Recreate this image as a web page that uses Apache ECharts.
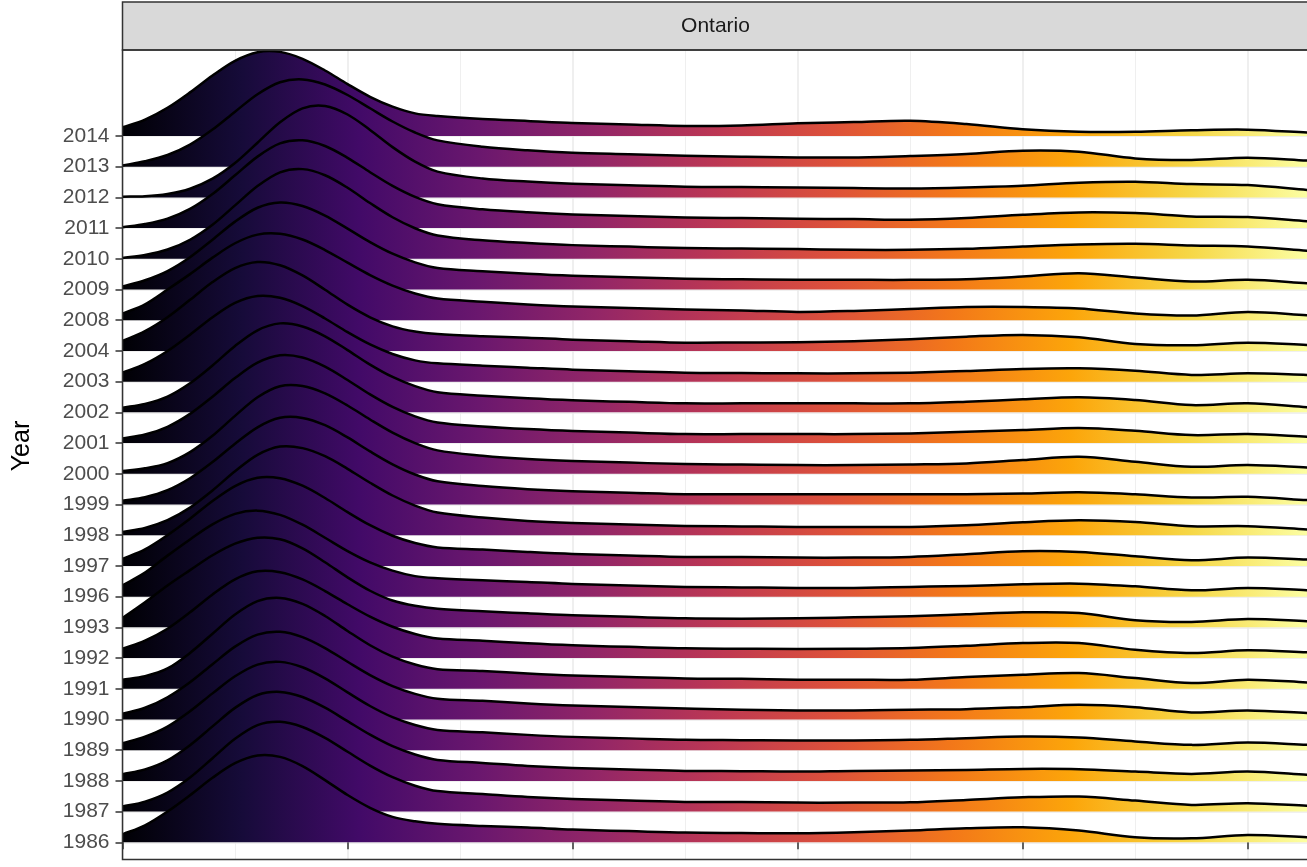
<!DOCTYPE html>
<html><head><meta charset="utf-8">
<script src="https://cdn.jsdelivr.net/npm/echarts@6/dist/echarts.min.js"></script>
<style>html,body{margin:0;padding:0;background:#fff}#chart{width:1307px;height:867px}</style>
</head><body><div id="chart"></div>
<script>
// ---- data ----
const stripLabel = 'Ontario';
const yTitle = 'Year';
const years = [1986,1987,1988,1989,1990,1991,1992,1993,1996,1997,1998,1999,2000,2001,2002,2003,2004,2008,2009,2010,2011,2012,2013,2014];
const xGrid = [0,0.1,0.2,0.3,0.4,0.5,0.6,0.7,0.8,0.9,1.0,1.1,1.2,1.3,1.4,1.6,1.8,2.0,2.25,2.5,2.75,3.0,3.25,3.5,3.75,4.0,4.25,4.5,4.75,5.0,5.27];
const d1986 = [8,17,30.8,47.1,64.5,79.1,86.8,85.4,76.2,62.2,47.3,34.5,25.4,21,18.5,16.3,14.7,12.7,11.2,9.7,9.3,9,10,11.7,14,15,11.7,5,4,7.3,5];
const d1987 = [5,10,19.1,34.1,53.4,72.8,86.5,89.8,84.6,73.7,59.8,46,34.4,25.9,20.5,17.6,14.7,12.7,11.2,9.7,9.5,9,9,9.3,11.7,14.3,15,11,6.7,8.3,5.7];
const d1988 = [6.7,11.5,20.6,35.7,54.5,73,85.9,89,83.9,73.2,59.7,46.2,34.7,26.4,20.9,18,15,13,11.5,10,9.7,9.3,10,10.3,11,12,11.7,9.3,7,9.3,6];
const d1989 = [7,13.5,23.6,38.9,56.8,73.9,85.6,88.3,82.9,71.8,57.8,44.2,33,25.1,20.2,17.9,15.3,13.3,11.8,10.3,10,9.7,9.7,10.3,12,13.7,12.7,8.7,5.3,7.7,5.3];
const d1990 = [5.7,11.7,22.2,37.2,55.2,72.8,84.8,87.6,82.3,71.4,57.7,44.4,33.4,25.6,20.8,18.6,16,14,12.5,11,9.7,9,9,9.7,10.3,12.3,14.7,12.3,7,9,6.3];
const d1991 = [9,12.5,20.3,35.8,55,74.2,87.6,90.8,84.9,72.8,57.8,43.5,32.1,24.2,19.6,17.8,15.3,13.3,11.8,10.3,10,9,9,9,11.7,14,15.7,10.7,5.7,9,6.3];
const d1992 = [9.3,17.5,29.3,45.7,63.6,78.7,86.7,85.8,78.6,67,53.8,41.4,31.3,24.1,19.6,17.4,14.7,12.7,11.2,9.7,9.3,9,9.3,10,12.3,15,15,8.3,5,7.7,5.7];
const d1993 = [9.3,25,41.9,57.2,72.1,83.7,89.6,88.1,79,65.1,50,36.6,26.8,21.5,18.5,16,14,12,10.5,9,8.7,9,10,11,13,15,14.3,7,5.3,8.3,6];
const d1996 = [11.3,24,41,57.2,72.2,82.7,86,81.8,71.9,58.9,45.6,34.3,26,20.5,18.5,16.3,14.7,12.7,11.2,9.7,9.2,8.7,8.7,9.7,10.7,12.3,13,10.3,6.3,8.7,6.3];
const d1997 = [7,16.5,30.8,47.2,64.9,79.9,88.2,87.7,80.2,67.9,53.8,40.7,30.2,22.9,18.5,16.4,14,12,10.5,9,9,8.3,8.3,9,11.7,14.7,14,9.7,5.7,8.3,6.3];
const d1998 = [3.3,7.3,15,27.6,44.8,63.9,80.3,88.6,87.1,79,66.4,52.5,39.7,29.6,22.7,17.7,14.3,12.3,10.8,9.3,8.8,8.3,8.3,8.3,10,13,15,13.3,9,9,5.7];
const d1999 = [3.7,7.3,14.3,26.2,42.4,60.8,77.2,86.7,86.6,79.3,67.1,53.1,40.2,30,23.2,18.4,15.3,13.3,11.8,10.3,10.3,10.3,10.3,10.3,10.3,11,12.3,10.3,7,7.7,4.3];
const d2000 = [2.7,5.5,10.7,21.7,38,57.9,76.5,87.5,87.7,80.4,68.3,54.3,41.2,30.7,23.4,18.1,14.7,12.7,11.2,9.7,9.2,8.7,8.7,9.3,10.3,13.7,17,12,7,8.7,6.3];
const d2001 = [4.7,8.5,16.3,29.2,46.4,65,80.4,87.8,85.6,76.5,63.1,48.7,36.2,26.7,20.6,16.7,14,12,10.5,9,9,9,9,9.7,11.3,13,15,12.3,8,9,6.3];
const d2002 = [4.7,8.5,15.8,29.1,46.9,66.4,82.1,89,85.9,76.1,62.3,47.8,35.4,26.2,20.2,16.7,14,12,10.5,9,9,9,9,9,10.7,13,15,12.3,7.3,9,5];
const d2003 = [9,17.7,30.6,47,64.5,78.8,85.7,83.9,75.6,63.2,49.5,37.2,27.7,21.3,18.3,16,14,12,10.5,9,8.7,8.3,8.3,9,10.7,12.7,13.3,11,6.7,8.3,6.7];
const d2004 = [10,19.8,33.7,51.1,68.9,82.9,89,85.7,75.5,61.2,46.3,33.7,24.6,19.5,17,14.8,13.3,11.3,9.8,8.3,8.5,8.7,9.7,11.7,14.3,16,13.7,7,5.7,8.3,6];
const d2008 = [6.7,16,30.7,46.1,62.6,77,85.6,86.4,80.7,70.2,57.6,45.2,34.7,26.8,21.7,18.5,15.8,13.7,12.2,10.7,9.8,8.3,9.3,11.3,13.3,13.3,11.7,6.7,4.7,8.3,5];
const d2009 = [3,9.3,18.5,32.3,49.8,67.9,81.8,87,83.5,73.9,60.9,47.4,35.8,27.2,21.6,18.4,15.7,13.7,12.2,10.7,10.2,9.7,9.7,9.7,10.3,13,16.3,12,8,9.7,6.3];
const d2010 = [0.8,3.9,9.3,19.1,34.1,53.4,72.8,86.5,89.7,83.6,71.1,55.8,41.6,30.6,23.3,18.5,15.8,13.7,12.2,10.7,10.2,9.7,9,9,10,12.3,14.3,15,13.3,12.3,8];
const d2011 = [0.8,4.1,9.5,19.2,34.1,52.8,71.5,84.7,87.8,82.1,70.3,55.9,42.2,31.2,23.9,18.8,15.8,13.7,12.2,10.7,10,9.3,9,8.3,10,13.3,15.7,15,11.7,11,6.7];
const d2012 = [0.7,1.2,3.5,8.7,18.7,34.4,54.7,75.2,89.1,91.4,82.9,67.5,50.3,35.8,25.8,18.9,15.8,13.7,12.2,10.7,10.3,10,9.3,9,10,11.7,14.7,15.7,13.3,12.3,7.3];
const d2013 = [1.2,5.5,11.7,22.1,37.1,55,72.5,84.5,87.3,82.2,71.7,58.4,45.2,34.2,26.3,19.9,16.4,14,12.5,11,10,9.3,9.3,10.7,12.7,16,15,8.3,6.7,9,6];
const d2014 = [8.7,16.4,28.2,43.6,60.5,75.2,83.8,84.1,77.2,65.5,51.9,39.2,29.3,22.6,20,17,15,13,11.5,10,10.5,12.7,14,15.3,12,6.7,4.3,4.3,5.7,6.3,3.3];
const ridgeValues = [d1986,d1987,d1988,d1989,d1990,d1991,d1992,d1993,d1996,d1997,d1998,d1999,d2000,d2001,d2002,d2003,d2004,d2008,d2009,d2010,d2011,d2012,d2013,d2014];

// ---- layout / style ----
const PL = 122.5, PT = 50, PH = 809.5, PW = 1186;   // panel
const XMAX_VIS = 5.27, XMAX_AXIS = 5.5;
const UNIT_PX = PW / XMAX_VIS;
const yMin = -0.56, yMax = 25.8;
const ridgeScale = 30.71;   // density units per category row
const rowPx = PH / (yMax - yMin);
const inferno = ['#000004','#160B39','#420A68','#6A176E','#932667','#BC3754','#DD513A','#F37819','#FCA50A','#F6D746','#FCFFA4'];
const FONT = "'Liberation Sans', Arial, Helvetica, sans-serif";
function makeGrad() {
  return new echarts.graphic.LinearGradient(PL, 0, PL + PW, 0,
    inferno.map((c,i)=>({offset:i/(inferno.length-1), color:c})), true);
}

// smooth cubic Hermite path through pixel points (x strictly increasing)
function smoothPath(p) {
  const n = p.length, m = [];
  for (let i = 0; i < n; i++) {
    const a = p[Math.max(0, i-1)], b = p[Math.min(n-1, i+1)];
    m.push((b[1]-a[1]) / (b[0]-a[0]));
  }
  let d = 'M' + p[0][0] + ',' + p[0][1];
  for (let i = 0; i < n-1; i++) {
    const h = (p[i+1][0] - p[i][0]) / 3;
    d += ' C' + (p[i][0]+h) + ',' + (p[i][1]+m[i]*h) + ' ' +
         (p[i+1][0]-h) + ',' + (p[i+1][1]-m[i+1]*h) + ' ' + p[i+1][0] + ',' + p[i+1][1];
  }
  return d;
}

function renderRidge(params, api) {
  const k = api.value(0);
  const vals = ridgeValues[k];
  const pts = xGrid.map((x,j)=>api.coord([x, k + vals[j]/ridgeScale]));
  const baseY = api.coord([0, k])[1];
  const line = smoothPath(pts);
  const area = line + ' L' + pts[pts.length-1][0] + ',' + baseY + ' L' + pts[0][0] + ',' + baseY + ' Z';
  return {type:'group', children:[
    {type:'path', shape:{pathData:area}, style:{fill:makeGrad(), stroke:null}, silent:true},
    {type:'path', shape:{pathData:line}, style:{fill:null, stroke:'#000000', lineWidth:2.5, lineJoin:'round'}, silent:true}
  ]};
}

const series = [];
for (let k = years.length - 1; k >= 0; k--) {
  series.push({
    type:'custom', name:String(years[k]), xAxisIndex:0, yAxisIndex:0,
    data:[[k]], dimensions:['ridge'], encode:{},
    renderItem:renderRidge, silent:true,
    z: 2 + (years.length - 1 - k),
    animation:false
  });
}

const chart = echarts.init(document.getElementById('chart'), null, {renderer:'canvas'});
chart.setOption({
  animation:false,
  backgroundColor:'#ffffff',
  grid:[
    {left:PL, top:PT, width:UNIT_PX*XMAX_AXIS, height:PH, outerBoundsMode:'none', containLabel:false},
    {left:PL, top:PT + (yMax-23)*rowPx, width:UNIT_PX*XMAX_AXIS, height:23*rowPx, outerBoundsMode:'none', containLabel:false}
  ],
  xAxis:[
    {gridIndex:0, type:'value', min:0, max:XMAX_AXIS, interval:1,
     axisLine:{show:false},
     axisTick:{show:true, length:7, lineStyle:{color:'#333333', width:1.5}},
     axisLabel:{show:false},
     splitLine:{show:true, lineStyle:{color:'#EBEBEB', width:1.6}},
     minorTick:{show:false, splitNumber:2},
     minorSplitLine:{show:true, lineStyle:{color:'#EBEBEB', width:0.8}}},
    {gridIndex:1, type:'value', min:0, max:1, show:false}
  ],
  yAxis:[
    {gridIndex:0, type:'value', min:yMin, max:yMax, show:false},
    {gridIndex:1, type:'category', data:years.map(String), boundaryGap:false,
     axisLine:{show:false},
     axisTick:{show:true, length:7, lineStyle:{color:'#333333', width:1.5}},
     axisLabel:{color:'#4D4D4D', fontSize:21, fontFamily:FONT, margin:13},
     splitLine:{show:true, lineStyle:{color:'#EBEBEB', width:1.6}}}
  ],
  series: series,
  graphic:[
    {type:'rect', z:100, silent:true, shape:{x:PL, y:2, width:PW, height:PT-2},
     style:{fill:'#D9D9D9', stroke:'#333333', lineWidth:1.5}},
    {type:'text', z:101, silent:true, x:PL+PW/2, y:(PT+2)/2,
     style:{text:stripLabel, fill:'#1A1A1A', font:'21px '+FONT, textAlign:'center', textVerticalAlign:'middle', align:'center', verticalAlign:'middle'}},
    {type:'rect', z:100, silent:true, shape:{x:PL, y:PT, width:PW, height:PH},
     style:{fill:null, stroke:'#333333', lineWidth:1.5}},
    {type:'text', z:101, silent:true, x:22, y:446, rotation:Math.PI/2,
     style:{text:yTitle, fill:'#000000', font:'25px '+FONT, textAlign:'center', textVerticalAlign:'middle', align:'center', verticalAlign:'middle'}}
  ]
});
</script></body></html>
